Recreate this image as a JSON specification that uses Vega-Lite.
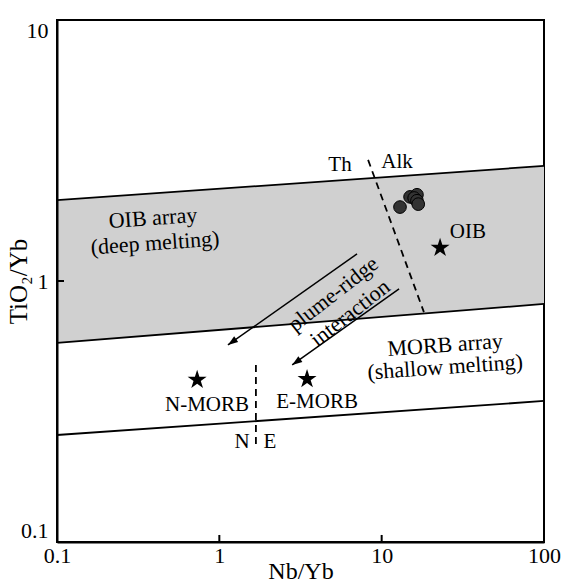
{
  "$schema": "https://vega.github.io/schema/vega-lite/v6.json",
  "width": 487,
  "height": 522,
  "autosize": {"type": "none"},
  "padding": {"left": 57, "top": 20, "right": 21, "bottom": 44},
  "background": "white",
  "config": {"view": {"stroke": "black", "strokeWidth": 2}, "font": "'Liberation Serif', 'DejaVu Serif', serif"},
  "datasets": {
    "band": [
      {"x": 0.1, "y": 0.579, "y2": 2.04},
      {"x": 100, "y": 0.817, "y2": 2.76}
    ],
    "lines": [
      {"id": "top", "x": 0.1, "y": 2.04}, {"id": "top", "x": 100, "y": 2.76},
      {"id": "mid", "x": 0.1, "y": 0.579}, {"id": "mid", "x": 100, "y": 0.817},
      {"id": "low", "x": 0.1, "y": 0.257}, {"id": "low", "x": 100, "y": 0.347}
    ],
    "dashed": [
      {"id": "thalk", "x": 8.25, "y": 2.91}, {"id": "thalk", "x": 18.2, "y": 0.76},
      {"id": "ne", "x": 1.68, "y": 0.477}, {"id": "ne", "x": 1.68, "y": 0.231}
    ],
    "arrows": [
      {"id": "a1", "x": 7.05, "y": 1.27}, {"id": "a1", "x": 1.13, "y": 0.569},
      {"id": "a2", "x": 12.8, "y": 0.932}, {"id": "a2", "x": 2.81, "y": 0.477}
    ],
    "heads": [
      {"x": 1.13, "y": 0.569}, {"x": 2.81, "y": 0.477}
    ],
    "xticks": [
      {"x": 1, "y": 0.1, "y2": 0.1064}, {"x": 10, "y": 0.1, "y2": 0.1064}
    ],
    "yticks": [
      {"x": 0.1, "x2": 0.1104, "y": 1}
    ],
    "samples": [
      {"x": 12.97, "y": 1.92},
      {"x": 14.96, "y": 2.10},
      {"x": 16.5, "y": 2.14},
      {"x": 15.85, "y": 2.08},
      {"x": 16.5, "y": 2.03},
      {"x": 16.8, "y": 1.97}
    ],
    "stars": [
      {"name": "N-MORB", "x": 0.73, "y": 0.418},
      {"name": "E-MORB", "x": 3.47, "y": 0.421},
      {"name": "OIB", "x": 22.9, "y": 1.34}
    ],
    "bandlabels": [
      {"label": "OIB array", "x": 0.39, "y": 1.743},
      {"label": "(deep melting)", "x": 0.402, "y": 1.398},
      {"label": "MORB array", "x": 24.6, "y": 0.569},
      {"label": "(shallow melting)", "x": 24.6, "y": 0.468}
    ],
    "arrowlabels": [
      {"label": "plume-ridge", "x": 5.02, "y": 0.892},
      {"label": "interaction", "x": 6.38, "y": 0.754}
    ],
    "labels": [
      {"label": "Th", "x": 5.54, "y": 2.78},
      {"label": "Alk", "x": 12.44, "y": 2.86},
      {"label": "N", "x": 1.38, "y": 0.2415},
      {"label": "E", "x": 2.05, "y": 0.2415},
      {"label": "N-MORB", "x": 0.84, "y": 0.335},
      {"label": "E-MORB", "x": 4.0, "y": 0.344},
      {"label": "OIB", "x": 34.0, "y": 1.54}
    ]
  },
  "encoding": {
    "x": {
      "field": "x", "type": "quantitative",
      "scale": {"type": "log", "domain": [0.1, 100], "nice": false},
      "axis": {
        "title": "Nb/Yb", "values": [0.1, 1, 10, 100], "format": "~g", "grid": false, "zindex": 1,
        "domainColor": "black", "domainWidth": 2, "ticks": false,
        "labelPadding": 3, "labelFont": "'Liberation Serif', 'DejaVu Serif', serif", "labelFontSize": 22, "labelColor": "black",
        "labelFlush": false, "labelOverlap": false,
        "titleFont": "'Liberation Serif', 'DejaVu Serif', serif", "titleFontSize": 24, "titleFontWeight": "normal", "titleColor": "black", "titlePadding": -7
      }
    },
    "y": {
      "field": "y", "type": "quantitative",
      "scale": {"type": "log", "domain": [0.1, 10], "nice": false},
      "axis": {
        "title": "TiO₂/Yb", "values": [0.1, 1, 10], "format": "~g", "grid": false, "zindex": 1,
        "domainColor": "black", "domainWidth": 2, "ticks": false,
        "labelPadding": 9, "labelFont": "'Liberation Serif', 'DejaVu Serif', serif", "labelFontSize": 22, "labelColor": "black",
        "labelFlush": true, "labelOverlap": false,
        "titleFont": "'Liberation Serif', 'DejaVu Serif', serif", "titleFontSize": 25, "titleFontWeight": "normal", "titleColor": "black",
        "titleX": -39, "titleY": 261, "titleBaseline": "middle", "titleAlign": "center", "titleAngle": 270
      }
    }
  },
  "layer": [
    {
      "data": {"name": "band"},
      "mark": {"type": "area", "color": "#d0d0d0"},
      "encoding": {"y2": {"field": "y2"}}
    },
    {
      "data": {"name": "lines"},
      "mark": {"type": "line", "color": "black", "strokeWidth": 1.8},
      "encoding": {"detail": {"field": "id"}}
    },
    {
      "data": {"name": "dashed"},
      "mark": {"type": "line", "color": "black", "strokeWidth": 1.8, "strokeDash": [7, 5]},
      "encoding": {"detail": {"field": "id"}}
    },
    {
      "data": {"name": "arrows"},
      "mark": {"type": "line", "color": "black", "strokeWidth": 1.5},
      "encoding": {"detail": {"field": "id"}}
    },
    {
      "data": {"name": "xticks"},
      "mark": {"type": "rule", "color": "black", "strokeWidth": 2},
      "encoding": {"y2": {"field": "y2"}}
    },
    {
      "data": {"name": "yticks"},
      "mark": {"type": "rule", "color": "black", "strokeWidth": 2},
      "encoding": {"x2": {"field": "x2"}}
    },
    {
      "data": {"name": "heads"},
      "mark": {"type": "point", "shape": "M0,0L0.7,2L-0.7,2Z", "filled": true, "color": "black", "opacity": 1, "size": 100, "angle": 235}
    },
    {
      "data": {"name": "samples"},
      "mark": {"type": "point", "shape": "circle", "filled": true, "fill": "#333333", "stroke": "#000000", "strokeWidth": 1, "opacity": 1, "size": 160}
    },
    {
      "data": {"name": "stars"},
      "mark": {"type": "point", "shape": "M0,-1L0.2245,-0.309L0.951,-0.309L0.363,0.118L0.588,0.809L0,0.382L-0.588,0.809L-0.363,0.118L-0.951,-0.309L-0.2245,-0.309Z", "filled": true, "color": "black", "opacity": 1, "size": 400}
    },
    {
      "data": {"name": "bandlabels"},
      "mark": {"type": "text", "font": "'Liberation Serif', 'DejaVu Serif', serif", "fontSize": 22, "color": "black", "align": "center", "baseline": "middle", "angle": 356},
      "encoding": {"text": {"field": "label"}}
    },
    {
      "data": {"name": "arrowlabels"},
      "mark": {"type": "text", "font": "'Liberation Serif', 'DejaVu Serif', serif", "fontSize": 22, "color": "black", "align": "center", "baseline": "middle", "angle": 322},
      "encoding": {"text": {"field": "label"}}
    },
    {
      "data": {"name": "labels"},
      "mark": {"type": "text", "font": "'Liberation Serif', 'DejaVu Serif', serif", "fontSize": 21, "color": "black", "align": "center", "baseline": "middle"},
      "encoding": {"text": {"field": "label"}}
    }
  ]
}
